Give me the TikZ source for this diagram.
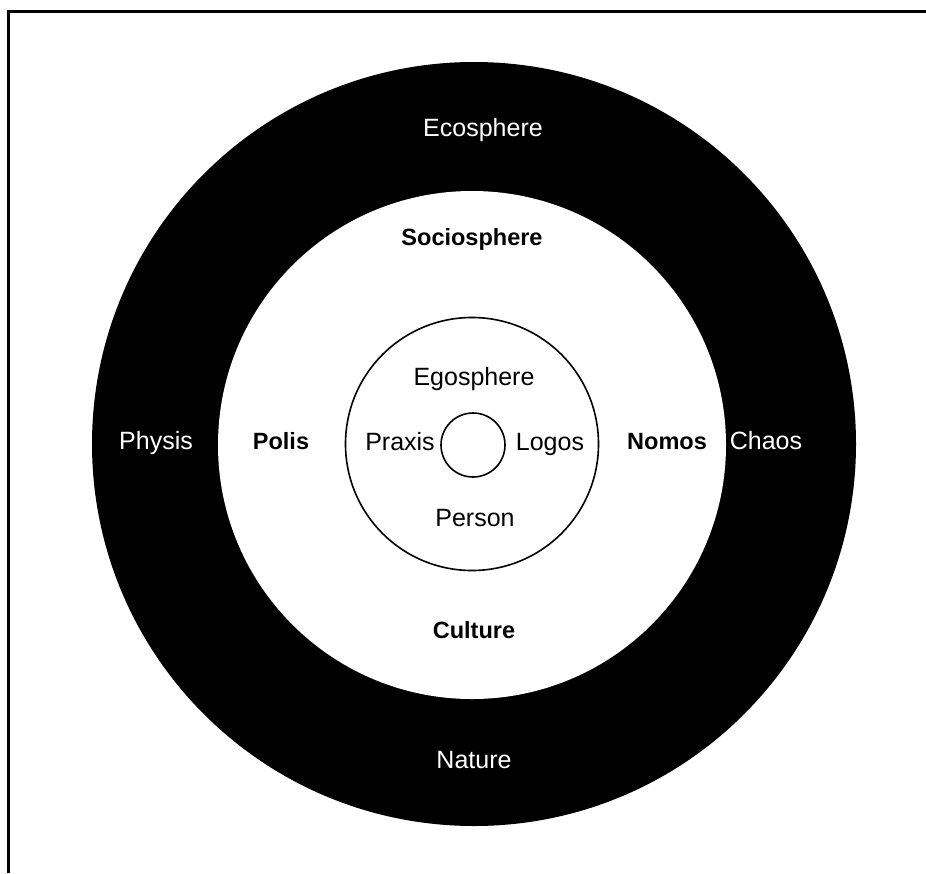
\documentclass[tikz,border=0pt]{standalone}
\usepackage{fontspec}
\setmainfont{Liberation Sans}
\usetikzlibrary{positioning}
\tikzset{
  sphere/.style={circle, draw, line width=1.6pt, fill=white, inner sep=0pt},
  lab/.style={font=\fontsize{25}{30}\selectfont, anchor=base, inner sep=0pt},
  blab/.style={font=\fontsize{23.5}{28}\selectfont\bfseries, anchor=base, inner sep=0pt},
  wlab/.style={lab, text=white},
}

\begin{document}
\begin{tikzpicture}[x=1pt, y=-1pt]
    \useasboundingbox (0,0) rectangle (926,873);
    % frame
    \draw[line width=3pt] (8,873) -- (8,11) -- (926,11);

    % Ecosphere
    \fill[black] (474,444) circle (382pt);
    \node[wlab] (eco) at (483,136.5) {Ecosphere};
    \node[wlab] (physis) at (156,449.5) {Physis};
    \node[wlab] (chaos) at (766,449.5) {Chaos};
    \node[wlab] (nature) at (474,768.5) {Nature};

    % Sociosphere
    \node[sphere, draw=none, minimum size=508pt] (socio) at (472,445) {};
    \node[blab] (sociolab) at (472,245) {Sociosphere};
    \node[blab] (polis) at (281,449.5) {Polis};
    \node[blab] (nomos) at (667,449.5) {Nomos};
    \node[blab] (culture) at (474,638.5) {Culture};

    % Egosphere
    \node[sphere, minimum size=253pt] (ego) at (472,444) {};
    \node[lab] (egolab) at (474,385) {Egosphere};
    \node[lab] (praxis) at (400,450) {Praxis};
    \node[lab] (logos) at (550,450) {Logos};
    \node[lab] (person) at (475,526.5) {Person};

    % Person
    \node[sphere, minimum size=64pt] (self) at (473,445) {};
\end{tikzpicture}
\end{document}
